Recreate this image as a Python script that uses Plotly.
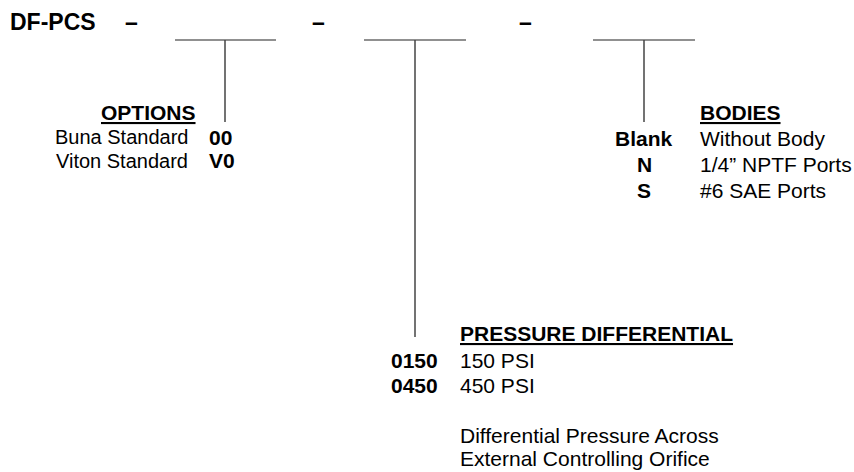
import plotly.graph_objects as go

# ---- data ----
model_prefix = "DF-PCS"
separator = "–"

option_title = "OPTIONS"
option_codes = ["00", "V0"]
option_labels = ["Buna Standard", "Viton Standard"]

body_title = "BODIES"
body_codes = ["Blank", "N", "S"]
body_labels = ["Without Body", "1/4\u201d NPTF Ports", "#6 SAE Ports"]

pressure_title = "PRESSURE DIFFERENTIAL"
pressure_codes = ["0150", "0450"]
pressure_labels = ["150 PSI", "450 PSI"]
pressure_notes = ["Differential Pressure Across", "External Controlling Orifice"]

# ---- layout constants ----
W, H = 854, 472
FONT = "Liberation Sans, Arial, Helvetica, sans-serif"
FS = 21
BLACK = "#000000"

fig = go.Figure()
shapes = []
ann = []

def text(x, y, s, xanchor="left", size=FS, bold=False, under=False):
    if under:
        s = "<u>" + s + "</u>"
    if bold:
        s = "<b>" + s + "</b>"
    ann.append(dict(x=x, y=y, xref="x", yref="y", text=s, showarrow=False,
                    xanchor=xanchor, yanchor="middle",
                    font=dict(family=FONT, size=size, color=BLACK)))

# header line
text(8, 22, model_prefix, bold=True, size=23)
for cx in [131, 318, 525]:
    text(cx, 22, separator, xanchor="center", bold=True, size=23)

# blank slots (horizontal) and leaders (vertical)
slots = [(175, 276), (364, 466), (593, 695)]
for x0, x1 in slots:
    shapes.append(dict(type="line", x0=x0, x1=x1, y0=40, y1=40, xref="x", yref="y",
                       line=dict(color="#222222", width=1.2)))
leaders = [(225, 122), (415, 337), (644, 122)]
for x, yb in leaders:
    shapes.append(dict(type="line", x0=x, x1=x, y0=40, y1=yb, xref="x", yref="y",
                       line=dict(color="#444444", width=1.5)))

# options
text(198, 112, option_title, xanchor="right", bold=True, under=True)
for i, (c, l) in enumerate(zip(option_codes, option_labels)):
    y = 137 + i * 23.5
    text(190, y, l, xanchor="right", size=20)
    text(207, y, c, xanchor="left", bold=True)

# bodies
text(698, 112, body_title, bold=True, under=True)
for i, (c, l) in enumerate(zip(body_codes, body_labels)):
    y = 138 + i * 26
    text(644, y, c, xanchor="center", bold=True)
    text(698, y, l)

# pressure
text(458, 333, pressure_title, bold=True, under=True)
for i, (c, l) in enumerate(zip(pressure_codes, pressure_labels)):
    y = 360 + i * 25
    text(440, y, c, xanchor="right", bold=True)
    text(458, y, l)
for i, n in enumerate(pressure_notes):
    text(458, 435 + i * 23.5, n)

fig.update_layout(
    width=W, height=H,
    margin=dict(l=0, r=0, t=0, b=0),
    paper_bgcolor="white", plot_bgcolor="white",
    xaxis=dict(range=[0, W], visible=False, fixedrange=True),
    yaxis=dict(range=[H, 0], visible=False, fixedrange=True),
    shapes=shapes, annotations=ann, showlegend=False,
)
fig.write_html("out.html", config={"displayModeBar": False},
               post_script="document.body.style.margin='0px';document.body.style.overflow='hidden';")
